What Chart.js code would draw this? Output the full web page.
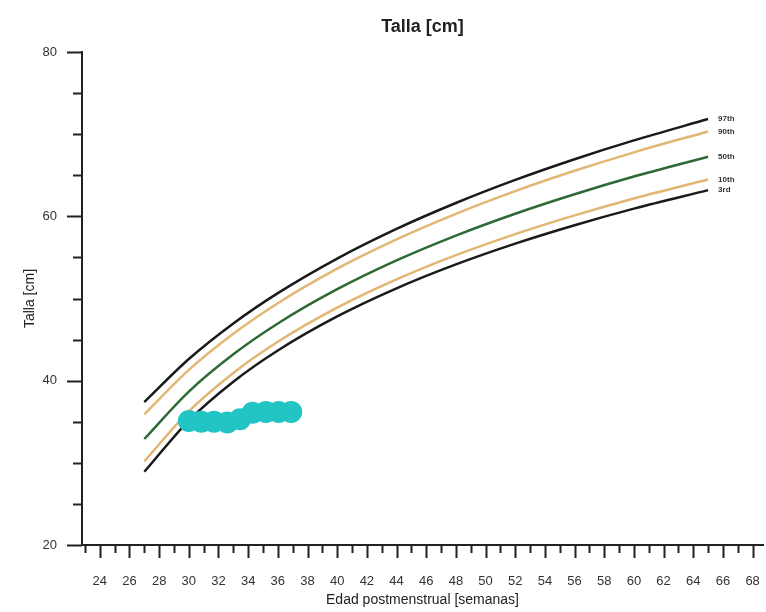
<!DOCTYPE html>
<html>
<head>
<meta charset="utf-8">
<script src="https://cdn.jsdelivr.net/npm/chart.js@4.4.1/dist/chart.umd.min.js"></script>
<style>
  html, body { margin: 0; padding: 0; background: #fff; }
  #wrap { width: 766px; height: 612px; }
</style>
</head>
<body>
<div id="wrap"><canvas id="tallaChart" width="766" height="612"></canvas></div>
<script>
// Percentile curves (weeks postmenstrual -> cm)
const weeks = [27, 30, 33, 36, 40, 44, 48, 52, 56, 60, 65];
const p97 = [37.40, 42.63, 46.96, 50.65, 54.86, 58.47, 61.62, 64.43, 66.95, 69.24, 71.84];
const p90 = [35.91, 41.32, 45.72, 49.43, 53.63, 57.20, 60.31, 63.07, 65.54, 67.79, 70.33];
const p50 = [32.90, 38.67, 43.21, 46.96, 51.13, 54.64, 57.66, 60.32, 62.69, 64.84, 67.26];
const p10 = [30.18, 36.27, 40.94, 44.73, 48.88, 52.32, 55.27, 57.84, 60.12, 62.18, 64.49];
const p3 = [28.91, 35.15, 39.88, 43.68, 47.82, 51.24, 54.15, 56.68, 58.92, 60.94, 63.19];
const curveLabels = ["97th", "90th", "50th", "10th", "3rd"];

// Patient measurements
const patientWeeks = [30.0, 30.85, 31.7, 32.6, 33.45, 34.3, 35.2, 36.05, 36.9];
const patientTalla = [35.1, 35.0, 35.0, 34.9, 35.3, 36.1, 36.2, 36.2, 36.2];

const xMin = 22.8;
const xMax = 68.7;
const yMin = 20;
const yMax = 80;

const BLACK = "#1a1a1a";
const TAN = "#e2b673";
const GREEN = "#2d6a35";
const FONT = "'Liberation Sans', Arial, sans-serif";

function toPoints(xs, ys) {
  return xs.map((x, i) => ({ x: x, y: ys[i] }));
}

function curve(label, values, color) {
  return {
    label: label,
    data: toPoints(weeks, values),
    showLine: true,
    borderColor: color,
    borderWidth: 2.5,
    pointRadius: 0,
    cubicInterpolationMode: "monotone",
    isCurve: true,
  };
}

function stepTicks(from, to, step) {
  const out = [];
  for (let v = from; v <= to; v += step) out.push({ value: v });
  return out;
}

// tick marks (long on labelled values) and the week labels under the x axis
const tickMarks = {
  id: "tickMarks",
  afterDraw(chart) {
    const { ctx, scales: { x, y }, chartArea } = chart;
    ctx.save();
    ctx.strokeStyle = "#222";
    ctx.lineWidth = 2;
    ctx.beginPath();
    x.ticks.forEach((t) => {
      const px = Math.round(x.getPixelForValue(t.value)) + 0.5;
      const len = t.value % 2 === 0 ? 13 : 8;
      ctx.moveTo(px, chartArea.bottom);
      ctx.lineTo(px, chartArea.bottom + len);
    });
    y.ticks.forEach((t) => {
      const py = Math.round(y.getPixelForValue(t.value)) + 0.5;
      const len = t.value % 20 === 0 ? 15 : 9;
      ctx.moveTo(chartArea.left, py);
      ctx.lineTo(chartArea.left - len, py);
    });
    ctx.stroke();

    ctx.fillStyle = "#333";
    ctx.font = "13px " + FONT;
    ctx.textAlign = "center";
    ctx.textBaseline = "middle";
    x.ticks.forEach((t) => {
      if (t.value % 2 !== 0) return;
      ctx.fillText(String(t.value), x.getPixelForValue(t.value), chartArea.bottom + 36);
    });
    ctx.restore();
  },
};

// percentile names at the end of each curve
const endLabels = {
  id: "endLabels",
  afterDatasetsDraw(chart) {
    const { ctx } = chart;
    ctx.save();
    ctx.fillStyle = "#333";
    ctx.font = "bold 8px " + FONT;
    ctx.textBaseline = "middle";
    chart.data.datasets.forEach((ds, i) => {
      if (!ds.isCurve) return;
      const meta = chart.getDatasetMeta(i);
      const last = meta.data[meta.data.length - 1];
      ctx.fillText(ds.label, last.x + 10, last.y);
    });
    ctx.restore();
  },
};

const chart = new Chart(document.getElementById("tallaChart").getContext("2d"), {
  type: "scatter",
  data: {
    datasets: [
      {
        label: "Paciente",
        data: toPoints(patientWeeks, patientTalla),
        showLine: false,
        pointRadius: 11,
        pointBackgroundColor: "#22c4c4",
        pointBorderColor: "#22c4c4",
        pointBorderWidth: 0,
      },
      curve(curveLabels[0], p97, BLACK),
      curve(curveLabels[1], p90, TAN),
      curve(curveLabels[2], p50, GREEN),
      curve(curveLabels[3], p10, TAN),
      curve(curveLabels[4], p3, BLACK),
    ],
  },
  options: {
    responsive: false,
    animation: false,
    layout: { autoPadding: false, padding: { top: 0, right: 3, left: 0, bottom: 0 } },
    scales: {
      x: {
        type: "linear",
        min: xMin,
        max: xMax,
        afterBuildTicks: (s) => { s.ticks = stepTicks(23, 68, 1); },
        grid: { display: false, drawTicks: false },
        border: { display: true, color: "#222", width: 2 },
        ticks: { display: false },
        title: {
          display: true,
          text: "Edad postmenstrual [semanas]",
          color: "#222",
          font: { family: FONT, size: 14 },
          padding: { top: 0, bottom: 3 },
        },
        afterFit: (s) => { s.height = 67; },
      },
      y: {
        min: yMin,
        max: yMax,
        afterBuildTicks: (s) => { s.ticks = stepTicks(20, 80, 5); },
        grid: { display: false, drawTicks: true, tickLength: 25 },
        border: { display: true, color: "#222", width: 2 },
        ticks: {
          autoSkip: false,
          padding: 0,
          color: "#333",
          font: { family: FONT, size: 13 },
          callback: (v) => (v % 20 === 0 ? v : ""),
        },
        title: {
          display: true,
          text: "Talla [cm]",
          color: "#222",
          font: { family: FONT, size: 14 },
          padding: { top: 22, bottom: 0 },
        },
        afterFit: (s) => { s.width = 82; },
      },
    },
    plugins: {
      legend: { display: false },
      tooltip: { enabled: false },
      title: {
        display: true,
        fullSize: false,
        text: "Talla [cm]",
        color: "#222",
        font: { family: FONT, size: 18, weight: "bold" },
        padding: { top: 16, bottom: 14.4 },
      },
    },
  },
  plugins: [tickMarks, endLabels],
});
</script>
</body>
</html>
